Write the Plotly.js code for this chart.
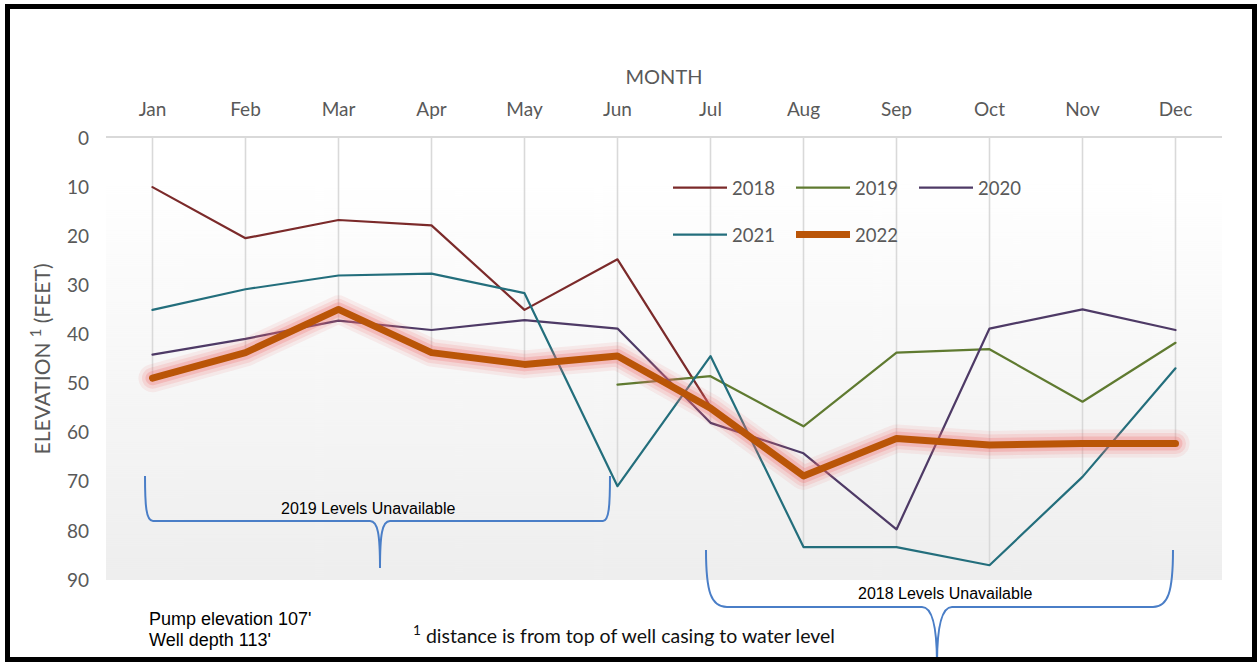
<!DOCTYPE html>
<html>
<head>
<meta charset="utf-8">
<script src="https://cdn.plot.ly/plotly-3.0.1.min.js"></script>
<style>
html,body{margin:0;padding:0;background:#fff;}
#chart{width:1257px;height:662px;}
.scatterlayer .js-line{stroke-linejoin:round;stroke-linecap:round;}
</style>
</head>
<body>
<div id="chart"></div>
<script>
// ---- data ----
const months = ["Jan","Feb","Mar","Apr","May","Jun","Jul","Aug","Sep","Oct","Nov","Dec"];
const y2018 = [10.0, 20.4, 16.7, 17.8, 35.0, 24.7, 54.7, null, null, null, null, null];
const y2019 = [null, null, null, null, null, 50.2, 48.5, 58.7, 43.7, 43.0, 53.7, 41.7];
const y2020 = [44.1, 40.9, 37.2, 39.1, 37.1, 38.8, 58.0, 64.2, 79.7, 38.8, 34.9, 39.1];
const y2021 = [35.0, 30.8, 28.0, 27.6, 31.6, 70.9, 44.4, 83.3, 83.3, 87.0, 69.0, 46.9];
const y2022 = [48.9, 43.7, 34.9, 43.7, 46.1, 44.4, 55.0, 68.8, 61.2, 62.5, 62.2, 62.2];
const yTicks = [0,10,20,30,40,50,60,70,80,90];

const colors = {"2018":"#7B2A2A","2019":"#5F7A30","2020":"#4E3A66","2021":"#236E7C","2022":"#BA5507"};

// ---- layout geometry (pixels) ----
const W = 1257, H = 662;
const M = {l:106, r:35, t:138, b:82};
const pw = W - M.l - M.r, ph = H - M.t - M.b;
const PX = x => (x - M.l) / pw;
const PY = y => (H - M.b - y) / ph;

// drop lines: from axis (0) to deepest value for each month
const series = [y2018,y2019,y2020,y2021,y2022];
const dropX = [], dropY = [];
months.forEach((m,i)=>{
  const vals = series.map(s=>s[i]).filter(v=>v!==null);
  dropX.push(m,m,null); dropY.push(0, Math.max(...vals), null);
});

const font = "Lato, 'Open Sans', sans-serif";
const arial = "'Liberation Sans', Arial, sans-serif";
const gray = "#595959";

function line(name, y, legend){
  return {type:"scatter", mode:"lines", name:name, x:months, y:y,
    line:{color:colors[name], width:2.2}, legend:legend, hoverinfo:"x+y+name"};
}
function glow(width, alpha){
  return {type:"scatter", mode:"lines", x:months, y:y2022, showlegend:false, hoverinfo:"skip",
    line:{color:"rgba(240,110,110,"+alpha+")", width:width}};
}

const traces = [
  {type:"scatter", mode:"lines", x:dropX, y:dropY, line:{color:"#d9d9d9", width:1.6},
   showlegend:false, hoverinfo:"skip"},
  line("2018", y2018, "legend"),
  line("2019", y2019, "legend"),
  line("2020", y2020, "legend"),
  line("2021", y2021, "legend2"),
  glow(28, 0.10), glow(21, 0.16), glow(14, 0.26),
  {type:"scatter", mode:"lines", name:"2022", x:months, y:y2022, legend:"legend2",
   line:{color:colors["2022"], width:7}}
];

// background gradient for plot area
const cv = document.createElement("canvas");
cv.width = 8; cv.height = ph;
const ctx = cv.getContext("2d");
const g = ctx.createLinearGradient(0,0,0,ph);
g.addColorStop(0,"#ffffff"); g.addColorStop(0.1,"#ffffff"); g.addColorStop(1,"#eeeeee");
ctx.fillStyle = g; ctx.fillRect(0,0,8,ph);

function pathFromPx(cmds){
  return cmds.map(c=>{
    const L = c[0]; const pts = [];
    for(let k=1;k<c.length;k+=2){ pts.push(PX(c[k]).toFixed(5)+","+PY(c[k+1]).toFixed(5)); }
    return L+pts.join(" ");
  }).join(" ");
}

const braceColor = "#4A7EC7";
const braceLeft = pathFromPx([
  ["M",145,476],["C",145,505, 146,521, 153,521],["L",370,521],
  ["C",378,521, 380,535, 380,568],["C",380,535, 382,521, 390,521],
  ["L",603,521],["C",609,521, 610,505, 610,476]
]);
const braceRight = pathFromPx([
  ["M",706,550],["C",706,592, 711,607, 727,607],["L",922,607],
  ["C",932,607, 937,625, 937,664],["C",937,625, 942,607, 952,607],
  ["L",1153,607],["C",1168,607, 1173,592, 1173,550]
]);

function note(x, y, text, xanchor, fnt){
  return {xref:"paper", yref:"paper", x:PX(x), y:PY(y), xanchor:xanchor, yanchor:"middle",
    text:text, showarrow:false, font:fnt};
}

const layout = {
  width:W, height:H, margin:M,
  paper_bgcolor:"#ffffff", plot_bgcolor:"rgba(0,0,0,0)",
  font:{family:font, color:gray, size:18},
  images:[{source:cv.toDataURL("image/png"), xref:"paper", yref:"paper", x:0, y:1,
    sizex:1, sizey:1, xanchor:"left", yanchor:"top", sizing:"stretch", layer:"below"}],
  xaxis:{type:"category", side:"top", range:[-0.5,11.5], showgrid:false, zeroline:false,
    showline:true, linecolor:"#d9d9d9", linewidth:2, ticks:"", ticklabelstandoff:12,
    tickfont:{family:font, size:19, color:gray},
    title:{text:"MONTH", font:{family:font, size:20, color:gray}, standoff:7}},
  yaxis:{range:[90,0], tickvals:yTicks, showgrid:false, zeroline:false, showline:false,
    ticks:"", ticklabelstandoff:16, tickfont:{family:font, size:19, color:gray},
    title:{text:"ELEVATION <sup>1</sup> (FEET)", font:{family:font, size:21, color:gray}, standoff:10}},
  legend:{orientation:"h", x:PX(668), y:PY(169), xanchor:"left", yanchor:"top",
    bgcolor:"rgba(0,0,0,0)", font:{family:font, size:18.5, color:gray},
    entrywidth:54, entrywidthmode:"pixels", itemwidth:54},
  legend2:{orientation:"h", x:PX(668), y:PY(216), xanchor:"left", yanchor:"top",
    bgcolor:"rgba(0,0,0,0)", font:{family:font, size:18.5, color:gray},
    entrywidth:54, entrywidthmode:"pixels", itemwidth:54},
  showlegend:true,
  shapes:[
    {type:"path", xref:"paper", yref:"paper", path:braceLeft, line:{color:braceColor, width:2}},
    {type:"path", xref:"paper", yref:"paper", path:braceRight, line:{color:braceColor, width:2}},
    {type:"rect", xref:"paper", yref:"paper", x0:PX(7.5), x1:PX(1254.5), y0:PY(659.5), y1:PY(6.5),
     line:{color:"#000000", width:5}, fillcolor:"rgba(0,0,0,0)"}
  ],
  annotations:[
    note(368, 508, "2019 Levels Unavailable", "center", {family:arial, size:16, color:"#000"}),
    note(945, 593, "2018 Levels Unavailable", "center", {family:arial, size:16, color:"#000"}),
    note(147, 619, "Pump elevation 107'", "left", {family:arial, size:18, color:"#000"}),
    note(147, 640, "Well depth 113'", "left", {family:arial, size:18, color:"#000"}),
    note(411, 634, "<sup>1</sup> distance is from top of well casing to water level", "left",
      {family:font, size:19.5, color:"#111"})
  ]
};

Plotly.newPlot("chart", traces, layout, {displayModeBar:false, staticPlot:true});
</script>
</body>
</html>
